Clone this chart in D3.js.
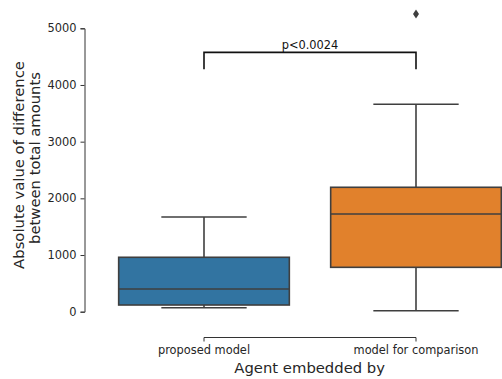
<!DOCTYPE html>
<html>
<head>
<meta charset="utf-8">
<script src="https://cdn.jsdelivr.net/npm/d3@7"></script>
<style>
  html, body { margin: 0; padding: 0; background: #fff; }
  svg { display: block; font-family: "DejaVu Sans", sans-serif; }
</style>
</head>
<body>
<svg id="chart" width="502" height="379"></svg>
<script>
// Groups and their box-plot summaries
const categories = ["proposed model", "model for comparison"];
const whiskerLow  = [70, 18];
const quartile1   = [118, 783];
const medians     = [400, 1723];
const quartile3   = [960, 2195];
const whiskerHigh = [1670, 3659];
const outliers    = [[], [5252]];
const boxColors   = ["#3274a1", "#e1812c"];
const yTicks      = [0, 1000, 2000, 3000, 4000, 5000];

// Significance bracket between the two groups
const bracketTop = 4576;
const bracketLeg = 4276;
const bracketText = "p<0.0024";

const svg = d3.select("#chart");
const lineColor = "#3f3f3f";

const x = d3.scaleBand().domain(categories).range([98, 522]).paddingInner(0).paddingOuter(0);
const y = d3.scaleLinear().domain([0, 5000]).range([311.7, 28.3]);
const cx = c => x(c) + x.bandwidth() / 2;
const boxW = x.bandwidth() * 0.805;

// Y axis
const yAxis = svg.append("g")
  .attr("transform", "translate(84.5,0)")
  .call(d3.axisLeft(y).tickValues(yTicks).tickFormat(d3.format("d")).tickSize(4).tickPadding(4));
yAxis.select(".domain").attr("stroke", "#333").attr("stroke-width", 1);
yAxis.selectAll(".tick line").attr("stroke", "#333");
yAxis.selectAll("text").attr("font-size", "11.4px").attr("fill", "#262626")
  .attr("font-family", "DejaVu Sans");

// X axis (offset below the plot, spanning the category centers)
const xAxisG = svg.append("g").attr("transform", "translate(0,337.5)");
xAxisG.append("line")
  .attr("x1", cx(categories[0])).attr("x2", cx(categories[1]))
  .attr("stroke", "#333").attr("stroke-width", 1);
categories.forEach(c => {
  xAxisG.append("line").attr("x1", cx(c)).attr("x2", cx(c)).attr("y1", 0).attr("y2", 4)
    .attr("stroke", "#333");
  xAxisG.append("text").attr("x", cx(c)).attr("y", 16)
    .attr("text-anchor", "middle").attr("font-size", "11.4px").attr("fill", "#262626")
    .text(c);
});

// Boxes
const boxes = svg.append("g");
categories.forEach((c, i) => {
  const g = boxes.append("g");
  const xc = cx(c);
  // whiskers
  g.append("line").attr("x1", xc).attr("x2", xc)
    .attr("y1", y(quartile3[i])).attr("y2", y(whiskerHigh[i]))
    .attr("stroke", lineColor).attr("stroke-width", 1.6);
  g.append("line").attr("x1", xc).attr("x2", xc)
    .attr("y1", y(quartile1[i])).attr("y2", y(whiskerLow[i]))
    .attr("stroke", lineColor).attr("stroke-width", 1.6);
  // caps
  [whiskerHigh[i], whiskerLow[i]].forEach(v => {
    g.append("line").attr("x1", xc - boxW / 4).attr("x2", xc + boxW / 4)
      .attr("y1", y(v)).attr("y2", y(v))
      .attr("stroke", lineColor).attr("stroke-width", 1.6);
  });
  // box
  g.append("rect")
    .attr("x", xc - boxW / 2).attr("width", boxW)
    .attr("y", y(quartile3[i])).attr("height", y(quartile1[i]) - y(quartile3[i]))
    .attr("fill", boxColors[i]).attr("stroke", lineColor).attr("stroke-width", 1.6);
  // median
  g.append("line").attr("x1", xc - boxW / 2).attr("x2", xc + boxW / 2)
    .attr("y1", y(medians[i])).attr("y2", y(medians[i]))
    .attr("stroke", lineColor).attr("stroke-width", 1.6);
  // fliers (thin diamonds)
  outliers[i].forEach(v => {
    const py = y(v);
    g.append("path")
      .attr("d", `M${xc},${py - 4.5}L${xc + 3},${py}L${xc},${py + 4.5}L${xc - 3},${py}Z`)
      .attr("fill", lineColor);
  });
});

// Significance bracket
const x0 = cx(categories[0]), x1 = cx(categories[1]);
svg.append("path")
  .attr("d", `M${x0},${y(bracketLeg)}V${y(bracketTop)}H${x1}V${y(bracketLeg)}`)
  .attr("fill", "none").attr("stroke", "#111").attr("stroke-width", 1.6);
svg.append("text")
  .attr("x", (x0 + x1) / 2).attr("y", y(bracketTop) - 3.5)
  .attr("text-anchor", "middle").attr("font-size", "11.4px").attr("fill", "#111")
  .text(bracketText);

// Axis titles
svg.append("text")
  .attr("x", 309.7).attr("y", 373.3)
  .attr("text-anchor", "middle").attr("font-size", "14.8px").attr("fill", "#262626")
  .text("Agent embedded by");
svg.append("text")
  .attr("transform", "translate(23.5,165) rotate(-90)")
  .attr("text-anchor", "middle").attr("font-size", "14.8px").attr("fill", "#262626")
  .text("Absolute value of difference");
svg.append("text")
  .attr("transform", "translate(39.5,158) rotate(-90)")
  .attr("text-anchor", "middle").attr("font-size", "14.8px").attr("fill", "#262626")
  .text("between total amounts");
</script>
</body>
</html>
